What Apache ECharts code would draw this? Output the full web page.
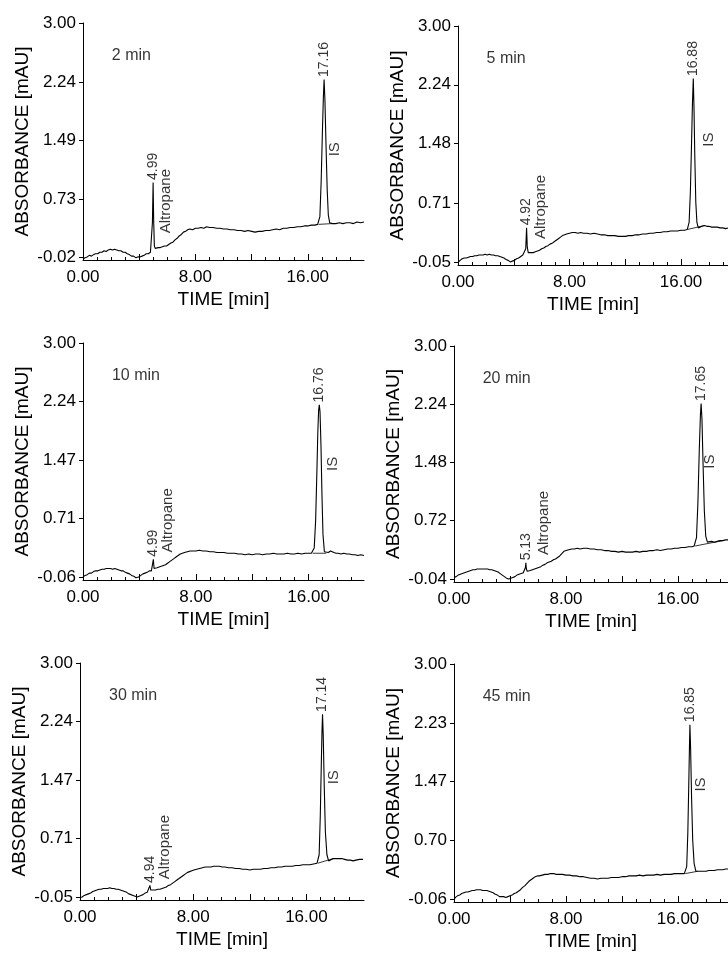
<!DOCTYPE html>
<html>
<head>
<meta charset="UTF-8">
<script src="https://cdn.jsdelivr.net/npm/echarts/dist/echarts.min.js"></script>
</head>
<body style="margin:0;background:#fff;">
<div id="main" style="width:728px;height:957px;"></div>
<script type="text/javascript">
// sampling times of the panels
var titles = ['2 min', '5 min', '10 min', '20 min', '30 min', '45 min'];

// y tick labels of each panel
var yTicks2 = [-0.02, 0.73, 1.49, 2.24, 3.00];
var yTicks5 = [-0.05, 0.71, 1.48, 2.24, 3.00];
var yTicks10 = [-0.06, 0.71, 1.47, 2.24, 3.00];
var yTicks20 = [-0.04, 0.72, 1.48, 2.24, 3.00];
var yTicks30 = [-0.05, 0.71, 1.47, 2.24, 3.00];
var yTicks45 = [-0.06, 0.70, 1.47, 2.23, 3.00];

// x labels and ticks (min)
var xLabels = [0, 8, 16];
var xMajorTicks = [0, 4, 8, 12, 16];
var xMinorTicks = [1, 2, 3, 5, 6, 7, 9, 10, 11, 13, 14, 15, 17, 18, 19];

// ---- 2 min ----
var base2 = [[0.00,-0.05],[0.15,-0.03],[0.30,-0.02],[0.45,0.00],[0.60,-0.01],[0.75,0.01],[0.90,0.02],[1.05,0.02],[1.20,0.04],[1.35,0.04],[1.50,0.06],[1.65,0.05],[1.80,0.07],[1.95,0.08],[2.10,0.07],[2.25,0.08],[2.40,0.07],[2.55,0.06],[2.70,0.06],[2.85,0.04],[3.00,0.04],[3.15,0.02],[3.30,0.01],[3.45,-0.01],[3.60,-0.01],[3.75,-0.03],[3.90,-0.02],[4.05,-0.02],[4.20,-0.01],[4.35,0.00],[4.50,0.02],[4.65,0.02],[4.80,0.04],
  [5.22,0.09],[5.35,0.10],[5.50,0.10],[5.65,0.11],[5.80,0.12],[5.95,0.12],[6.10,0.14],[6.25,0.16],[6.40,0.17],[6.55,0.20],[6.70,0.22],[6.85,0.25],[7.00,0.27],[7.15,0.30],[7.30,0.31],[7.45,0.33],[7.60,0.34],[7.80,0.33],[8.00,0.35],[8.20,0.35],[8.40,0.36],[8.60,0.35],[8.80,0.37],[9.00,0.36],[9.25,0.36],[9.50,0.35],[9.75,0.35],[10.00,0.34],[10.25,0.34],[10.50,0.33],[10.75,0.33],[11.00,0.32],[11.25,0.32],[11.50,0.31],[11.75,0.32],[12.00,0.31],[12.25,0.30],[12.50,0.31],[12.75,0.31],[13.00,0.32],[13.25,0.32],[13.50,0.33],[13.75,0.34],[14.00,0.33],[14.25,0.35],[14.50,0.35],[14.75,0.36],[15.00,0.36],[15.25,0.37],[15.50,0.37],[15.75,0.38],[16.00,0.38],[16.25,0.39],[16.50,0.39],[16.70,0.40],
  [17.75,0.41],[18.00,0.41],[18.25,0.42],[18.50,0.41],[18.75,0.42],[19.00,0.42],[19.25,0.41],[19.50,0.43],[19.75,0.42],[20.00,0.43]];
var altro2 = [[4.88,0.05],[4.94,0.42],[4.99,0.94],[5.03,0.45],[5.08,0.12],[5.14,0.09]];
var is2 = [[16.76,0.40],[16.86,0.50],[16.95,0.95],[17.04,1.60],[17.11,2.05],[17.16,2.27],[17.22,2.00],[17.30,1.40],[17.38,0.85],[17.46,0.52],[17.56,0.42]];
var isBase2 = [[16.76,0.40],[17.75,0.41]];
var tops2 = [[4.99,0.94],[17.16,2.27]];
var isText2 = [17.92, 1.37];
var altroText2 = [5.89, 0.70];

// ---- 5 min ----
var base5 = [[0.00,-0.06],[0.15,-0.03],[0.30,-0.01],[0.45,0.00],[0.60,0.00],[0.75,0.01],[0.90,0.02],[1.05,0.02],[1.20,0.03],[1.35,0.03],[1.50,0.04],[1.65,0.04],[1.80,0.04],[1.95,0.05],[2.10,0.04],[2.25,0.05],[2.40,0.04],[2.55,0.04],[2.70,0.03],[2.85,0.03],[3.00,0.02],[3.15,0.01],[3.30,0.00],[3.45,-0.02],[3.60,-0.03],[3.75,-0.05],[3.90,-0.04],[4.05,-0.03],[4.20,-0.01],[4.35,0.00],[4.50,0.02],[4.65,0.04],[4.76,0.05],
  [5.12,0.07],[5.25,0.07],[5.40,0.07],[5.55,0.08],[5.70,0.09],[5.85,0.10],[6.00,0.12],[6.15,0.13],[6.30,0.15],[6.45,0.16],[6.60,0.18],[6.75,0.19],[6.90,0.21],[7.05,0.23],[7.20,0.25],[7.35,0.27],[7.50,0.29],[7.65,0.30],[7.80,0.31],[8.00,0.32],[8.20,0.33],[8.40,0.33],[8.60,0.32],[8.80,0.33],[9.00,0.32],[9.25,0.32],[9.50,0.31],[9.75,0.32],[10.00,0.31],[10.25,0.30],[10.50,0.30],[10.75,0.29],[11.00,0.29],[11.25,0.29],[11.50,0.28],[11.75,0.28],[12.00,0.28],[12.25,0.29],[12.50,0.29],[12.75,0.30],[13.00,0.30],[13.25,0.31],[13.50,0.31],[13.75,0.32],[14.00,0.32],[14.25,0.33],[14.50,0.33],[14.75,0.34],[15.00,0.34],[15.25,0.35],[15.50,0.35],[15.75,0.35],[16.00,0.36],[16.25,0.36],[16.45,0.37],
  [17.35,0.40],[17.50,0.41],[17.68,0.42],[17.85,0.41],[18.00,0.41],[18.20,0.40],[18.40,0.40],[18.60,0.40],[18.80,0.39],[19.00,0.39],[19.20,0.38],[19.40,0.39]];
var altro5 = [[4.80,0.05],[4.86,0.12],[4.92,0.39],[4.97,0.14],[5.04,0.07]];
var is5 = [[16.48,0.37],[16.58,0.46],[16.67,0.85],[16.75,1.45],[16.82,2.00],[16.88,2.32],[16.93,1.95],[16.99,1.30],[17.06,0.72],[17.14,0.46],[17.24,0.39]];
var isBase5 = [[16.48,0.37],[17.68,0.42]];
var tops5 = [[4.92,0.39],[16.88,2.32]];
var isText5 = [17.98, 1.53];
var altroText5 = [5.95, 0.66];

// ---- 10 min ----
var base10 = [[0.00,-0.06],[0.15,-0.04],[0.30,-0.03],[0.45,-0.01],[0.60,-0.01],[0.75,0.01],[0.90,0.02],[1.05,0.02],[1.20,0.03],[1.35,0.04],[1.50,0.04],[1.65,0.05],[1.80,0.05],[1.95,0.05],[2.10,0.04],[2.25,0.05],[2.40,0.04],[2.55,0.03],[2.70,0.02],[2.85,0.02],[3.00,0.00],[3.15,-0.01],[3.30,-0.02],[3.45,-0.04],[3.60,-0.05],[3.75,-0.07],[3.85,-0.08],[3.95,-0.06],[4.10,-0.04],[4.25,-0.02],[4.40,-0.01],[4.55,0.00],[4.70,0.02],[4.85,0.02],
  [5.10,0.05],[5.25,0.06],[5.40,0.07],[5.55,0.08],[5.70,0.09],[5.85,0.10],[6.00,0.12],[6.15,0.14],[6.30,0.16],[6.45,0.18],[6.60,0.20],[6.75,0.22],[6.90,0.24],[7.05,0.25],[7.20,0.26],[7.40,0.27],[7.60,0.28],[7.80,0.28],[8.00,0.28],[8.25,0.29],[8.50,0.28],[8.75,0.28],[9.00,0.27],[9.25,0.27],[9.50,0.26],[9.75,0.26],[10.00,0.26],[10.25,0.25],[10.50,0.25],[10.75,0.25],[11.00,0.24],[11.25,0.24],[11.50,0.23],[11.75,0.24],[12.00,0.23],[12.25,0.24],[12.50,0.24],[12.75,0.23],[13.00,0.24],[13.25,0.24],[13.50,0.25],[13.75,0.24],[14.00,0.24],[14.25,0.24],[14.50,0.25],[14.75,0.24],[15.00,0.24],[15.25,0.25],[15.50,0.24],[15.75,0.25],[16.00,0.25],[16.20,0.25],
  [17.25,0.25],[17.40,0.26],[17.55,0.28],[17.65,0.28],[17.80,0.26],[17.95,0.25],[18.10,0.25],[18.30,0.24],[18.50,0.25],[18.70,0.24],[18.90,0.24],[19.10,0.23],[19.30,0.23],[19.50,0.22],[19.70,0.23],[19.93,0.22]];
var altro10 = [[4.93,0.03],[4.99,0.17],[5.04,0.05]];
var is10 = [[16.29,0.25],[16.40,0.32],[16.50,0.68],[16.58,1.25],[16.65,1.80],[16.71,2.12],[16.76,2.19],[16.81,2.10],[16.88,1.65],[16.95,1.00],[17.02,0.50],[17.12,0.27]];
var isBase10 = [[16.29,0.25],[17.25,0.25]];
var tops10 = [[4.99,0.17],[16.76,2.19]];
var isText10 = [17.71, 1.42];
var altroText10 = [6.05, 0.68];

// ---- 20 min ----
var base20 = [[0.00,-0.02],[0.15,-0.01],[0.30,0.01],[0.45,0.02],[0.60,0.03],[0.75,0.04],[0.90,0.05],[1.05,0.06],[1.20,0.07],[1.35,0.08],[1.50,0.08],[1.65,0.09],[1.80,0.09],[1.95,0.09],[2.10,0.09],[2.25,0.09],[2.40,0.09],[2.55,0.08],[2.70,0.08],[2.85,0.07],[3.00,0.06],[3.15,0.05],[3.30,0.03],[3.45,0.01],[3.60,-0.01],[3.75,-0.03],[3.90,-0.04],[4.05,-0.03],[4.20,-0.02],[4.35,-0.01],[4.50,0.01],[4.65,0.02],[4.80,0.03],[4.95,0.04],
  [5.30,0.06],[5.45,0.07],[5.60,0.08],[5.75,0.09],[5.90,0.10],[6.05,0.11],[6.20,0.12],[6.35,0.14],[6.50,0.15],[6.65,0.17],[6.80,0.18],[6.95,0.19],[7.10,0.21],[7.25,0.22],[7.40,0.24],[7.55,0.26],[7.70,0.29],[7.85,0.32],[8.00,0.33],[8.20,0.34],[8.40,0.35],[8.60,0.35],[8.80,0.36],[9.00,0.35],[9.25,0.36],[9.50,0.36],[9.75,0.35],[10.00,0.35],[10.25,0.34],[10.50,0.34],[10.75,0.33],[11.00,0.33],[11.25,0.32],[11.50,0.32],[11.75,0.31],[12.00,0.32],[12.25,0.31],[12.50,0.31],[12.75,0.31],[13.00,0.32],[13.25,0.31],[13.50,0.32],[13.75,0.32],[14.00,0.33],[14.25,0.33],[14.50,0.34],[14.75,0.33],[15.00,0.34],[15.25,0.35],[15.50,0.35],[15.75,0.36],[16.00,0.36],[16.25,0.37],[16.50,0.37],[16.75,0.38],[17.00,0.38],[17.15,0.39],
  [18.20,0.44],[18.40,0.45],[18.60,0.44],[18.80,0.45],[19.00,0.46],[19.20,0.46],[19.40,0.47],[19.60,0.47]];
var altro20 = [[5.05,0.05],[5.10,0.11],[5.13,0.17],[5.17,0.09],[5.23,0.06]];
var is20 = [[17.22,0.39],[17.32,0.50],[17.42,0.95],[17.52,1.65],[17.60,2.10],[17.65,2.25],[17.71,2.05],[17.79,1.45],[17.88,0.85],[17.98,0.52],[18.10,0.44]];
var isBase20 = [[17.22,0.39],[19.20,0.46]];
var tops20 = [[5.13,0.17],[17.65,2.25]];
var isText20 = [18.25, 1.49];
var altroText20 = [6.39, 0.69];

// ---- 30 min ----
var base30 = [[0.00,-0.06],[0.15,-0.05],[0.30,-0.03],[0.45,-0.02],[0.60,-0.01],[0.75,0.00],[0.90,0.02],[1.05,0.03],[1.20,0.04],[1.35,0.05],[1.50,0.05],[1.65,0.06],[1.80,0.06],[1.95,0.06],[2.10,0.07],[2.25,0.06],[2.40,0.06],[2.55,0.05],[2.70,0.05],[2.85,0.04],[3.00,0.03],[3.15,0.02],[3.30,0.01],[3.45,-0.01],[3.60,-0.02],[3.75,-0.03],[3.90,-0.04],[4.05,-0.05],[4.15,-0.05],[4.30,-0.03],[4.45,-0.02],[4.60,0.00],[4.75,0.01],[4.84,0.02],
  [5.05,0.04],[5.20,0.04],[5.35,0.04],[5.50,0.05],[5.65,0.05],[5.80,0.06],[5.95,0.07],[6.10,0.08],[6.25,0.10],[6.40,0.11],[6.55,0.13],[6.70,0.15],[6.85,0.17],[7.00,0.19],[7.15,0.21],[7.30,0.23],[7.45,0.25],[7.60,0.27],[7.75,0.28],[7.90,0.29],[8.05,0.30],[8.25,0.31],[8.45,0.32],[8.65,0.33],[8.85,0.34],[9.05,0.34],[9.25,0.34],[9.45,0.35],[9.65,0.35],[9.85,0.35],[10.05,0.34],[10.25,0.34],[10.50,0.33],[10.75,0.33],[11.00,0.32],[11.25,0.32],[11.50,0.31],[11.75,0.31],[12.00,0.30],[12.25,0.31],[12.50,0.31],[12.75,0.31],[13.00,0.32],[13.25,0.32],[13.50,0.33],[13.75,0.33],[14.00,0.34],[14.25,0.34],[14.50,0.35],[14.75,0.35],[15.00,0.35],[15.25,0.36],[15.50,0.36],[15.75,0.37],[16.00,0.37],[16.25,0.37],[16.50,0.38],[16.75,0.39],
  [17.70,0.43],[17.90,0.45],[18.10,0.45],[18.30,0.45],[18.50,0.45],[18.70,0.44],[18.90,0.43],[19.10,0.43],[19.30,0.42],[19.50,0.43],[19.75,0.44],[20.00,0.44]];
var altro30 = [[4.88,0.02],[4.94,0.10],[5.00,0.04]];
var is30 = [[16.81,0.39],[16.90,0.50],[16.98,1.00],[17.05,1.65],[17.10,2.10],[17.14,2.33],[17.19,2.05],[17.26,1.40],[17.34,0.80],[17.45,0.50],[17.57,0.42]];
var isBase30 = [[16.81,0.39],[17.90,0.45]];
var tops30 = [[4.94,0.10],[17.14,2.33]];
var isText30 = [17.92, 1.51];
var altroText30 = [6.00, 0.60];

// ---- 45 min ----
var base45 = [[0.00,-0.07],[0.10,-0.04],[0.25,-0.02],[0.40,-0.01],[0.55,0.01],[0.70,0.02],[0.85,0.03],[1.00,0.03],[1.15,0.04],[1.30,0.05],[1.45,0.05],[1.60,0.06],[1.75,0.06],[1.90,0.06],[2.05,0.05],[2.20,0.05],[2.35,0.05],[2.50,0.04],[2.65,0.03],[2.80,0.02],[2.95,0.00],[3.10,-0.01],[3.25,-0.03],[3.40,-0.03],[3.55,-0.03],[3.70,-0.04],[3.85,-0.03],[4.00,-0.02],[4.15,-0.01],[4.30,0.01],[4.45,0.02],[4.60,0.04],[4.75,0.06],[4.90,0.09],[5.05,0.11],[5.20,0.14],[5.35,0.17],[5.50,0.19],[5.65,0.21],[5.80,0.23],[5.95,0.24],[6.10,0.24],[6.30,0.25],[6.50,0.26],[6.70,0.26],[6.90,0.27],[7.10,0.27],[7.30,0.26],[7.50,0.26],[7.75,0.26],[8.00,0.25],[8.25,0.25],[8.50,0.24],[8.75,0.24],[9.00,0.23],[9.25,0.23],[9.50,0.22],[9.75,0.21],[10.00,0.21],[10.25,0.20],[10.50,0.21],[10.75,0.21],[11.00,0.21],[11.25,0.22],[11.50,0.22],[11.75,0.22],[12.00,0.23],[12.25,0.23],[12.50,0.24],[12.75,0.24],[13.00,0.24],[13.25,0.25],[13.50,0.24],[13.75,0.25],[14.00,0.25],[14.25,0.25],[14.50,0.26],[14.75,0.25],[15.00,0.26],[15.25,0.26],[15.50,0.26],[15.75,0.27],[16.00,0.27],[16.25,0.27],[16.45,0.27],
  [17.40,0.30],[17.60,0.30],[17.80,0.30],[18.00,0.30],[18.20,0.31],[18.40,0.31],[18.60,0.31],[18.80,0.32],[19.00,0.32],[19.20,0.32],[19.40,0.33],[19.60,0.33]];
var is45 = [[16.52,0.27],[16.62,0.36],[16.70,0.80],[16.77,1.45],[16.82,1.95],[16.85,2.21],[16.90,1.90],[16.97,1.25],[17.05,0.70],[17.15,0.40],[17.28,0.30]];
var isBase45 = [[16.52,0.27],[17.40,0.30]];
var tops45 = [[16.85,2.21]];
var isText45 = [17.64, 1.43];

// where the panel name sits (data units)
var titlePos = [2.05, 2.58];

var panels = [
	{title: titles[0], base: base2, altro: altro2, is: is2, isBase: isBase2, tops: tops2, yTicks: yTicks2, isText: isText2, altroText: altroText2},
	{title: titles[1], base: base5, altro: altro5, is: is5, isBase: isBase5, tops: tops5, yTicks: yTicks5, isText: isText5, altroText: altroText5},
	{title: titles[2], base: base10, altro: altro10, is: is10, isBase: isBase10, tops: tops10, yTicks: yTicks10, isText: isText10, altroText: altroText10},
	{title: titles[3], base: base20, altro: altro20, is: is20, isBase: isBase20, tops: tops20, yTicks: yTicks20, isText: isText20, altroText: altroText20},
	{title: titles[4], base: base30, altro: altro30, is: is30, isBase: isBase30, tops: tops30, yTicks: yTicks30, isText: isText30, altroText: altroText30},
	{title: titles[5], base: base45, altro: [], is: is45, isBase: isBase45, tops: tops45, yTicks: yTicks45, isText: isText45, altroText: null}
];

// layout of the six panels (pixels) and axis ranges
var grids = [
	{left: 83, top: 23, width: 281, height: 237},
	{left: 458, top: 26, width: 270, height: 239},
	{left: 83, top: 343, width: 281, height: 237},
	{left: 454, top: 346, width: 274, height: 236},
	{left: 80, top: 663, width: 284, height: 237},
	{left: 454, top: 664, width: 274, height: 238}
];
var yMins = [-0.06, -0.09, -0.10, -0.08, -0.09, -0.10];
var xMaxes = [20.0, 19.37, 19.93, 19.57, 20.07, 19.57];

var FONT = '"Liberation Sans", Arial, Helvetica, sans-serif';
var INK = '#000';

var option = {
	animation: false,
	backgroundColor: '#fff',
	textStyle: {fontFamily: FONT, color: INK},
	grid: [], xAxis: [], yAxis: [], series: []
};

function fmt2(v) { return v.toFixed(2); }

// an x axis that only draws ticks (kept on the grid bottom, not at y = 0)
function tickAxis(i, values, len) {
	return {
		gridIndex: i, type: 'value', position: 'bottom', min: 0, max: xMaxes[i],
		axisLine: {show: false, onZero: false},
		axisTick: {show: true, inside: true, length: len, customValues: values, lineStyle: {color: INK, width: 1}},
		axisLabel: {show: false},
		splitLine: {show: false}
	};
}

panels.forEach(function (p, i) {
	option.grid.push(grids[i]);
	// main x axis: line, labels, name
	option.xAxis.push({
		gridIndex: i, type: 'value', position: 'bottom', min: 0, max: xMaxes[i],
		axisLine: {show: true, onZero: false, lineStyle: {color: INK, width: 1}},
		axisTick: {show: false},
		axisLabel: {show: true, customValues: xLabels, formatter: fmt2, fontSize: 17, color: INK, margin: 9, fontFamily: FONT},
		splitLine: {show: false},
		name: 'TIME [min]', nameLocation: 'middle', nameGap: 30,
		nameTextStyle: {fontSize: 19, color: INK, fontFamily: FONT}
	});
	option.xAxis.push(tickAxis(i, xMinorTicks, 3));
	option.xAxis.push(tickAxis(i, xMajorTicks, 6));

	option.yAxis.push({
		gridIndex: i, type: 'value', min: yMins[i], max: 3.00,
		axisLine: {show: true, onZero: false, lineStyle: {color: INK, width: 1}},
		axisTick: {show: true, length: 4, customValues: p.yTicks, lineStyle: {color: INK}},
		axisLabel: {show: true, customValues: p.yTicks, formatter: fmt2, fontSize: 17, color: INK, margin: 7, fontFamily: FONT},
		splitLine: {show: false},
		name: 'ABSORBANCE [mAU]', nameLocation: 'middle', nameGap: 51,
		nameTextStyle: {fontSize: 19, color: INK, fontFamily: FONT}
	});

	var trace = p.base.concat(p.altro, p.is).sort(function (a, b) { return a[0] - b[0]; });
	var xi = 3 * i;

	option.series.push({
		type: 'line', xAxisIndex: xi, yAxisIndex: i, data: trace,
		showSymbol: false, silent: true,
		lineStyle: {color: INK, width: 1.1}
	});
	// integration baseline under the IS peak
	option.series.push({
		type: 'line', xAxisIndex: xi, yAxisIndex: i, data: p.isBase,
		showSymbol: false, silent: true,
		lineStyle: {color: INK, width: 0.8}
	});
	// retention time above each peak
	option.series.push({
		type: 'scatter', xAxisIndex: xi, yAxisIndex: i, data: p.tops,
		symbolSize: 1, silent: true, itemStyle: {color: 'rgba(0,0,0,0)'},
		label: {
			show: true, position: 'top', distance: 2, rotate: 90,
			align: 'left', verticalAlign: 'middle',
			formatter: function (d) { return d.value[0].toFixed(2); },
			fontSize: 14, color: INK, fontFamily: FONT
		}
	});
	// compound names
	var names = [{value: p.isText, name: 'IS'}];
	if (p.altroText) names.push({value: p.altroText, name: 'Altropane'});
	option.series.push({
		type: 'scatter', xAxisIndex: xi, yAxisIndex: i, data: names,
		symbolSize: 1, silent: true, itemStyle: {color: 'rgba(0,0,0,0)'},
		label: {
			show: true, position: 'inside', rotate: 90,
			align: 'center', verticalAlign: 'middle', formatter: '{b}',
			fontSize: 15, color: INK, fontFamily: FONT
		}
	});
	// panel name
	option.series.push({
		type: 'scatter', xAxisIndex: xi, yAxisIndex: i,
		data: [{value: titlePos, name: p.title}],
		symbolSize: 1, silent: true, itemStyle: {color: 'rgba(0,0,0,0)'},
		label: {
			show: true, position: 'inside', align: 'left', verticalAlign: 'middle',
			formatter: '{b}', fontSize: 16, color: INK, fontFamily: FONT
		}
	});
});

var myChart = echarts.init(document.getElementById('main'));
myChart.setOption(option);
</script>
</body>
</html>
